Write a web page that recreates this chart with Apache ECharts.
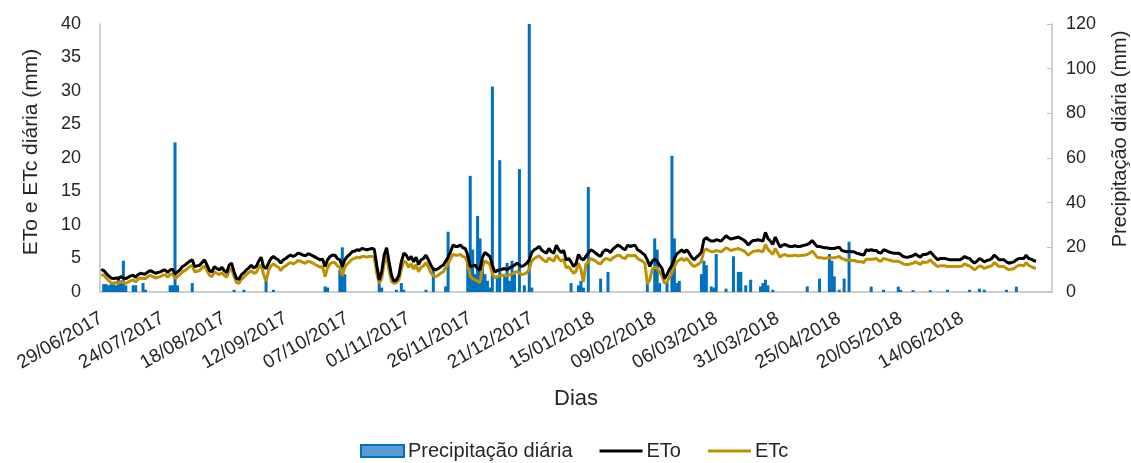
<!DOCTYPE html>
<html>
<head>
<meta charset="utf-8">
<title>ETo, ETc e precipitação diária</title>
<script src="https://cdn.jsdelivr.net/npm/echarts@6/dist/echarts.min.js"></script>
<style>
    html, body { margin: 0; padding: 0; background: #fff; }
    #chart { width: 1131px; height: 463px; }
</style>
</head>
<body>
<div id="chart"></div>
<script>
// dados diários a partir de 29/06/2017 (um valor por dia)
var startDate = [2017, 5, 29];
var totalDays = 387;
var labelStep = 25;      // um rótulo a cada 25 dias
var lastLabel = 350;     // último rótulo: 14/06/2018

var eto = [
    3.4, 3.2, 2.8, 2.4, 2.1, 2.0, 2.1, 2.0, 2.3, 2.1,
    2.0, 2.2, 2.4, 2.5, 2.2, 2.6, 2.8, 2.7, 2.7, 3.0,
    3.2, 3.0, 2.8, 2.9, 3.0, 3.2, 3.3, 2.9, 3.3, 3.4,
    2.7, 3.0, 3.3, 3.8, 4.0, 4.3, 4.6, 4.8, 3.8, 3.9,
    4.0, 4.4, 4.8, 4.0, 3.2, 3.0, 3.8, 3.5, 3.3, 3.7,
    3.2, 2.9, 4.0, 4.3, 3.0, 2.0, 1.9, 2.6, 2.9, 3.3,
    3.6, 4.0, 3.6, 3.8, 4.6, 5.2, 3.8, 3.5, 4.3, 5.0,
    5.3, 5.0, 4.8, 4.3, 4.8, 5.0, 5.3, 5.5, 5.3, 5.5,
    5.8, 5.7, 5.5, 5.4, 5.7, 5.6, 5.4, 5.2, 5.0, 4.8,
    4.9, 3.8, 4.8, 5.3, 5.5, 5.5, 5.0, 4.8, 3.8, 4.8,
    5.3, 5.6, 6.0, 6.1, 6.3, 6.2, 6.5, 6.4, 6.3, 6.4,
    6.5, 6.4, 4.0, 1.8, 3.0, 5.5, 6.6, 4.5, 2.5, 1.6,
    1.8, 2.5, 4.5, 5.8, 5.5, 4.8, 5.3, 4.5, 5.2, 4.1,
    4.8, 5.0, 5.5, 4.8, 4.0, 3.4, 3.3, 3.5, 3.8, 4.0,
    4.6, 5.2, 6.0, 7.0, 6.8, 6.8, 7.0, 6.6, 6.5, 5.5,
    3.8, 3.9, 4.0, 3.5, 3.3, 5.2, 5.9, 5.6, 5.3, 4.0,
    3.0, 3.2, 3.3, 3.4, 3.5, 3.3, 3.6, 3.8, 4.0, 4.3,
    4.0, 3.8, 4.0, 4.3, 4.8, 5.9, 6.3, 6.5, 6.8, 6.3,
    6.0, 5.8, 6.5, 6.0, 5.8, 7.0, 6.3, 5.9, 6.2, 4.8,
    5.0, 4.5, 3.8, 4.2, 5.6, 5.0, 4.8, 5.3, 5.8, 6.3,
    6.1, 5.8, 5.5, 5.3, 6.0, 6.3, 6.2, 5.9, 6.4, 6.7,
    7.0, 6.8, 6.5, 6.3, 7.0, 6.8, 6.9, 7.0, 6.3, 6.1,
    5.8, 5.5, 4.8, 3.8, 4.6, 4.9, 4.6, 4.0, 3.5, 2.0,
    2.6, 3.4, 4.0, 5.0, 5.7, 6.0, 6.3, 5.9, 6.3, 5.8,
    5.2, 4.8, 5.2, 5.5, 6.0, 7.8, 8.1, 7.8, 7.6, 7.6,
    7.8, 7.7, 7.6, 8.0, 8.4, 8.1, 7.9, 8.0, 8.1, 8.2,
    8.0, 7.8, 7.5, 7.0, 7.4, 7.7, 7.7, 7.8, 7.7, 7.6,
    8.9, 8.0, 7.6, 7.1, 8.2, 7.4, 6.7, 7.0, 7.1, 6.9,
    6.8, 6.8, 6.9, 6.8, 6.8, 6.9, 7.0, 7.1, 7.3, 7.7,
    7.2, 6.8, 6.8, 6.7, 6.6, 6.6, 6.5, 6.5, 6.5, 6.6,
    6.7, 6.2, 6.1, 6.0, 6.1, 6.0, 6.0, 5.8, 5.7, 5.6,
    5.5, 6.3, 6.2, 6.3, 6.2, 6.2, 5.9, 5.8, 6.3, 6.2,
    6.0, 5.9, 5.8, 5.8, 5.8, 5.6, 5.3, 5.2, 5.2, 5.3,
    5.4, 5.7, 5.4, 5.2, 5.6, 5.6, 5.7, 6.0, 5.6, 5.2,
    4.8, 5.0, 5.0, 5.0, 4.9, 4.8, 4.8, 4.8, 4.8, 4.8,
    5.0, 5.3, 5.1, 5.0, 4.6, 4.3, 4.6, 5.0, 4.8, 4.5,
    4.7, 4.8, 5.0, 5.5, 5.2, 4.8, 4.8, 4.8, 4.5, 4.3,
    4.4, 4.5, 4.8, 5.0, 5.0, 5.0, 5.5, 5.0, 4.9, 4.7, 4.6
];

var etc = [
    2.6, 2.5, 2.1, 1.7, 1.4, 1.3, 1.4, 1.3, 1.6, 1.4,
    1.3, 1.5, 1.7, 1.8, 1.5, 1.9, 2.1, 2.0, 2.0, 2.3,
    2.5, 2.3, 2.1, 2.2, 2.3, 2.5, 2.6, 2.2, 2.6, 2.7,
    2.0, 2.3, 2.6, 3.0, 3.2, 3.5, 3.8, 4.0, 3.0, 3.1,
    3.2, 3.6, 3.9, 3.2, 2.5, 2.3, 3.0, 2.8, 2.6, 2.9,
    2.5, 2.2, 3.2, 3.5, 2.3, 1.4, 1.3, 1.9, 2.2, 2.6,
    2.9, 3.2, 2.8, 2.9, 3.6, 4.1, 2.6, 1.6, 3.2, 3.9,
    4.2, 3.9, 3.7, 3.2, 3.7, 3.9, 4.2, 4.4, 4.2, 4.4,
    4.7, 4.6, 4.4, 4.3, 4.6, 4.5, 4.3, 4.1, 3.9, 3.7,
    3.8, 2.3, 3.6, 4.2, 4.4, 4.4, 3.9, 3.7, 2.4, 3.7,
    4.2, 4.5, 4.9, 5.0, 5.2, 5.1, 5.3, 5.3, 5.2, 5.3,
    5.3, 5.2, 2.8, 1.3, 2.0, 4.3, 5.4, 3.3, 1.6, 1.3,
    1.4, 1.8, 3.4, 4.6, 4.4, 3.7, 4.2, 3.4, 4.1, 3.0,
    3.7, 3.9, 4.4, 3.7, 2.9, 2.4, 2.3, 2.5, 2.8, 3.0,
    3.6, 4.2, 4.9, 5.6, 5.5, 5.5, 5.6, 5.3, 5.2, 4.2,
    2.3, 2.0, 1.8, 1.6, 1.4, 3.8, 4.6, 4.4, 4.1, 2.8,
    2.1, 2.3, 2.4, 2.5, 2.5, 2.4, 2.6, 2.7, 2.9, 3.1,
    2.8, 2.6, 2.7, 2.9, 3.4, 4.6, 5.0, 5.2, 5.4, 5.0,
    4.7, 4.5, 5.1, 4.8, 4.6, 5.5, 5.0, 4.6, 4.9, 3.6,
    3.8, 3.3, 2.8, 3.1, 4.3, 3.4, 1.5, 4.1, 4.5, 5.0,
    4.8, 4.6, 4.3, 4.2, 4.7, 5.0, 4.9, 4.7, 5.1, 5.3,
    5.5, 5.4, 5.1, 5.0, 5.5, 5.4, 5.4, 5.5, 5.0, 4.8,
    4.6, 4.3, 1.2, 1.8, 3.4, 3.7, 3.5, 3.0, 2.4, 1.3,
    1.5, 2.2, 2.9, 3.8, 4.5, 4.8, 5.0, 4.7, 5.0, 4.6,
    4.1, 3.8, 4.0, 4.2, 4.6, 6.2, 6.4, 6.2, 6.0, 6.0,
    6.2, 6.1, 6.0, 6.3, 6.6, 6.4, 6.2, 6.3, 6.4, 6.5,
    6.3, 6.2, 5.9, 5.5, 5.8, 6.1, 6.1, 6.2, 6.1, 6.0,
    7.1, 6.4, 6.0, 5.6, 6.5, 5.8, 5.2, 5.5, 5.6, 5.4,
    5.4, 5.4, 5.5, 5.4, 5.4, 5.5, 5.5, 5.6, 5.8, 6.1,
    5.7, 5.2, 5.1, 5.1, 5.0, 5.1, 5.1, 5.1, 5.1, 5.2,
    5.3, 5.0, 4.9, 4.7, 4.8, 4.7, 4.7, 4.6, 4.5, 4.5,
    4.4, 4.9, 4.9, 4.9, 4.9, 5.0, 4.7, 4.6, 5.0, 4.9,
    4.8, 4.7, 4.6, 4.6, 4.6, 4.4, 4.2, 4.1, 4.1, 4.2,
    4.3, 4.5, 4.3, 4.1, 4.5, 4.4, 4.5, 4.8, 4.4, 4.1,
    3.8, 3.9, 3.9, 3.9, 3.8, 3.8, 3.8, 3.8, 3.8, 3.8,
    3.9, 4.2, 4.0, 3.9, 3.6, 3.3, 3.6, 3.9, 3.8, 3.5,
    3.7, 3.8, 3.9, 4.4, 4.1, 3.8, 3.8, 3.8, 3.5, 3.3,
    3.4, 3.5, 3.8, 4.0, 4.0, 3.9, 4.4, 4.0, 3.8, 3.6, 3.6
];

var precip = [
    0, 3.5, 3.5, 3, 3.5, 3.5, 3, 7, 4, 14, 3, 0, 0, 3, 3, 0, 0, 4, 1, 0,
    0, 0, 0, 0, 0, 0, 0, 0, 3, 3, 67, 3, 0, 0, 0, 0, 0, 4, 0, 0,
    0, 0, 0, 0, 0, 0, 0, 0, 0, 0, 0, 0, 0, 0, 1, 0, 0, 0, 1, 0,
    0, 0, 0, 0, 0, 0, 0, 5, 0, 0, 1, 0, 0, 0, 0, 0, 0, 0, 0, 0,
    0, 0, 0, 0, 0, 0, 0, 0, 0, 0, 0, 2.5, 2, 0, 0, 0, 0, 10, 20, 8,
    0, 0, 0, 0, 0, 0, 0, 0, 0, 0, 0, 0, 0, 6, 2, 0, 0, 0, 0, 0,
    1, 0, 4, 1, 0, 0, 0, 0, 0, 0, 0, 0, 1, 0, 0, 11, 0, 0, 0, 0,
    2.5, 27, 0, 0, 0, 0, 0, 0, 0, 17, 52, 19, 8, 34, 24, 14, 8, 5, 2, 92,
    0, 7, 59, 0, 7, 13, 5, 14, 8, 0, 55, 0, 3, 0, 120, 2, 0, 0, 0, 0,
    0, 0, 0, 0, 0, 0, 0, 0, 0, 0, 0, 4, 0, 0, 3, 5, 2, 0, 47, 0,
    0, 0, 0, 6, 0, 0, 9, 0, 0, 0, 0, 0, 0, 0, 0, 0, 0, 0, 0, 0,
    0, 0, 4, 0, 0, 24, 19, 4, 0, 0, 4, 0, 61, 24, 4, 5, 0, 0, 0, 0,
    0, 0, 0, 0, 8, 14, 12, 0, 2.5, 2, 17, 0, 0, 0, 1.5, 0, 0, 16, 0, 9,
    9, 0, 3, 0, 5.5, 0, 0, 0, 2.5, 4, 5.5, 3, 0, 1, 0, 0, 0, 0, 0, 0,
    0, 0, 0, 0, 0, 0, 0, 2.5, 0, 0, 0, 0, 6, 0, 0, 0, 17, 14, 7, 0,
    1, 0, 6, 0, 22.5, 0, 0, 0, 0, 0, 0, 0, 0, 2.4, 0, 0, 0, 0, 1, 0,
    0, 0, 0, 0, 2.4, 1, 0, 0, 0, 0, 0.8, 0, 0, 0, 0, 0, 0, 0.8, 0, 0,
    0, 0, 0, 0, 1, 0, 0, 0, 0, 0, 0, 0, 0, 1, 0, 0, 0, 1.5, 0, 1,
    0, 0, 0, 0, 0, 0, 0, 0, 1, 0, 0, 0, 2.4, 0, 0, 0, 0, 0, 0, 0, 0
];

var leftTicks = [0, 40, 5];     // min, max, intervalo
var rightTicks = [0, 120, 20];

var pad = function (n) {
    return n < 10 ? "0" + n : "" + n;
};

// categorias: dd/mm/aaaa, um dia por categoria
var dias = [];
for (var i = 0; i < totalDays; i++) {
    var d = new Date(Date.UTC(startDate[0], startDate[1], startDate[2] + i));
    dias.push(pad(d.getUTCDate()) + "/" + pad(d.getUTCMonth() + 1) + "/" + d.getUTCFullYear());
}

var font = "Liberation Sans, Arial, sans-serif";
var textColor = "#262626";
// ícone de linha para a legenda (sem o marcador circular)
var lineIcon = "path://M0,0L43,0L43,0.05L0,0.05Z M0,4.6L43,4.6L43,7.4L0,7.4Z M0,11.95L43,11.95L43,12L0,12Z";

var myChart = echarts.init(document.getElementById("chart"));

var option = {
    animation: false,
    textStyle: { fontFamily: font },
    grid: {
        left: 100,
        right: 79,
        top: 24,
        bottom: 171,
        outerBoundsMode: "none"
    },
    legend: {
        top: 441,
        left: 360,
        padding: 0,
        itemWidth: 43,
        itemHeight: 12,
        itemGap: 27,
        textStyle: { fontSize: 20, color: textColor, fontFamily: font, padding: [0, 0, 0, -1] },
        data: [{
            name: "Precipitação diária",
            icon: "rect",
            itemStyle: { color: "#5B9BD5", borderColor: "#0070C0", borderWidth: 2 }
        }, {
            name: "ETo",
            icon: lineIcon,
            textStyle: { padding: [0, 4, 0, -1] }
        }, {
            name: "ETc",
            icon: lineIcon
        }]
    },
    xAxis: {
        type: "category",
        data: dias,
        name: "Dias",
        nameLocation: "middle",
        nameGap: 96,
        nameTextStyle: { fontSize: 22, color: textColor },
        axisLine: { lineStyle: { color: "#BFBFBF", width: 1.5 } },
        axisTick: { show: false },
        axisLabel: {
            interval: function (index) {
                return index % labelStep === 0 && index <= lastLabel;
            },
            rotate: 30,
            fontSize: 19,
            color: textColor,
            margin: 25
        },
        splitLine: { show: false }
    },
    yAxis: [{
        type: "value",
        min: leftTicks[0],
        max: leftTicks[1],
        interval: leftTicks[2],
        name: "ETo e ETc diária (mm)",
        nameLocation: "middle",
        nameRotate: 90,
        nameGap: 58,
        nameTextStyle: { fontSize: 21, color: textColor, padding: [0, 0, 0, 12] },
        axisLine: { show: true, lineStyle: { color: "#BFBFBF", width: 1.5 } },
        axisTick: { show: false },
        axisLabel: { fontSize: 18, color: textColor, margin: 19 },
        splitLine: { show: false }
    }, {
        type: "value",
        position: "right",
        min: rightTicks[0],
        max: rightTicks[1],
        interval: rightTicks[2],
        name: "Precipitação diária (mm)",
        nameLocation: "middle",
        nameRotate: 90,
        nameGap: 58,
        nameTextStyle: { fontSize: 20, color: textColor, padding: [0, 0, 0, 38] },
        axisLine: { show: true, lineStyle: { color: "#BFBFBF", width: 1.5 } },
        axisTick: { show: true, inside: true, length: 5, lineStyle: { color: "#BFBFBF" } },
        axisLabel: { fontSize: 18, color: textColor, margin: 14 },
        splitLine: { show: false }
    }],
    series: [{
        name: "Precipitação diária",
        type: "bar",
        yAxisIndex: 1,
        data: precip,
        barWidth: 3,
        itemStyle: { color: "#0070C0" },
        z: 1
    }, {
        name: "ETo",
        type: "line",
        yAxisIndex: 0,
        data: eto,
        symbol: "none",
        lineStyle: { color: "#000000", width: 3 },
        itemStyle: { color: "#000000" },
        z: 3
    }, {
        name: "ETc",
        type: "line",
        yAxisIndex: 0,
        data: etc,
        symbol: "none",
        lineStyle: { color: "#BF9000", width: 3 },
        itemStyle: { color: "#BF9000" },
        z: 2
    }]
};

myChart.setOption(option);
</script>
</body>
</html>
